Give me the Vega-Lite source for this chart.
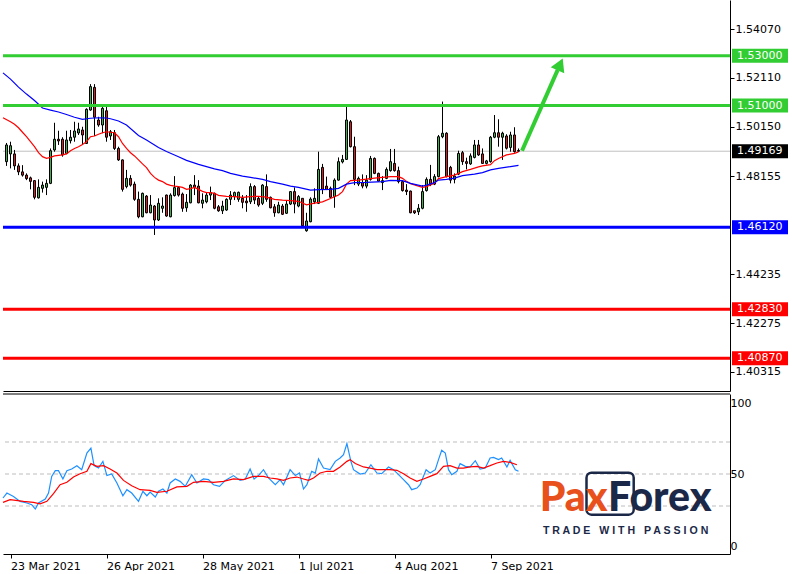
{
  "$schema": "https://vega.github.io/schema/vega-lite/v6.json",
  "padding": 0,
  "background": "white",
  "bounds": "flush",
  "spacing": 3,
  "config": {
    "view": {"stroke": null},
    "font": "DejaVu Sans",
    "scale": {"continuousPadding": 0},
    "axis": {"labelFont": "DejaVu Sans", "labelFontSize": 11, "labelColor": "black", "domainColor": "black", "tickColor": "black", "grid": false}
  },
  "datasets": {
    "candles": [
      {"i":-1,"o":1.4875,"h":1.4950,"l":1.4858,"c":1.4942},
      {"i":0,"o":1.4906,"h":1.4955,"l":1.4848,"c":1.4939},
      {"i":1,"o":1.4906,"h":1.4922,"l":1.4842,"c":1.4858},
      {"i":2,"o":1.4858,"h":1.4868,"l":1.4821,"c":1.4834},
      {"i":3,"o":1.4834,"h":1.4861,"l":1.4815,"c":1.4821},
      {"i":4,"o":1.4821,"h":1.4828,"l":1.4801,"c":1.4807},
      {"i":5,"o":1.4810,"h":1.4815,"l":1.4764,"c":1.4796},
      {"i":6,"o":1.4799,"h":1.4801,"l":1.4724,"c":1.4732},
      {"i":7,"o":1.4730,"h":1.4804,"l":1.4727,"c":1.4772},
      {"i":8,"o":1.4768,"h":1.4795,"l":1.4751,"c":1.4781},
      {"i":9,"o":1.4772,"h":1.4804,"l":1.4741,"c":1.4788},
      {"i":10,"o":1.4788,"h":1.4928,"l":1.4785,"c":1.4919},
      {"i":11,"o":1.4922,"h":1.5031,"l":1.4915,"c":1.4965},
      {"i":12,"o":1.4965,"h":1.4999,"l":1.4942,"c":1.4958},
      {"i":13,"o":1.4965,"h":1.4973,"l":1.4895,"c":1.4902},
      {"i":14,"o":1.4908,"h":1.4999,"l":1.4905,"c":1.4962},
      {"i":15,"o":1.4959,"h":1.5002,"l":1.4948,"c":1.4973},
      {"i":16,"o":1.4973,"h":1.5035,"l":1.4955,"c":1.4998},
      {"i":17,"o":1.4990,"h":1.5031,"l":1.4982,"c":1.5006},
      {"i":18,"o":1.5002,"h":1.5015,"l":1.4942,"c":1.4982},
      {"i":19,"o":1.4948,"h":1.5089,"l":1.4946,"c":1.5085},
      {"i":20,"o":1.5082,"h":1.5186,"l":1.5079,"c":1.5176},
      {"i":21,"o":1.5173,"h":1.5186,"l":1.4978,"c":1.5053},
      {"i":22,"o":1.5042,"h":1.5055,"l":1.5015,"c":1.5022},
      {"i":23,"o":1.5022,"h":1.5096,"l":1.4989,"c":1.5089},
      {"i":24,"o":1.5079,"h":1.5096,"l":1.4955,"c":1.4973},
      {"i":25,"o":1.4978,"h":1.5002,"l":1.4962,"c":1.4995},
      {"i":26,"o":1.4991,"h":1.5002,"l":1.4922,"c":1.4928},
      {"i":27,"o":1.4928,"h":1.4935,"l":1.4878,"c":1.4882},
      {"i":28,"o":1.4882,"h":1.4884,"l":1.4755,"c":1.4764},
      {"i":29,"o":1.4775,"h":1.4842,"l":1.4768,"c":1.4808},
      {"i":30,"o":1.4808,"h":1.4821,"l":1.4775,"c":1.4781},
      {"i":31,"o":1.4785,"h":1.4795,"l":1.4718,"c":1.4724},
      {"i":32,"o":1.4724,"h":1.4755,"l":1.4648,"c":1.4654},
      {"i":33,"o":1.4654,"h":1.4751,"l":1.4652,"c":1.4748},
      {"i":34,"o":1.4737,"h":1.4741,"l":1.4668,"c":1.4670},
      {"i":35,"o":1.4670,"h":1.4741,"l":1.4668,"c":1.4701},
      {"i":36,"o":1.4697,"h":1.4701,"l":1.4581,"c":1.4641},
      {"i":37,"o":1.4641,"h":1.4728,"l":1.4637,"c":1.4708},
      {"i":38,"o":1.4688,"h":1.4732,"l":1.4670,"c":1.4697},
      {"i":39,"o":1.4741,"h":1.4743,"l":1.4654,"c":1.4657},
      {"i":40,"o":1.4654,"h":1.4748,"l":1.4652,"c":1.4741},
      {"i":41,"o":1.4739,"h":1.4817,"l":1.4735,"c":1.4771},
      {"i":42,"o":1.4771,"h":1.4775,"l":1.4735,"c":1.4741},
      {"i":43,"o":1.4745,"h":1.4751,"l":1.4674,"c":1.4688},
      {"i":44,"o":1.4690,"h":1.4745,"l":1.4674,"c":1.4712},
      {"i":45,"o":1.4710,"h":1.4785,"l":1.4708,"c":1.4781},
      {"i":46,"o":1.4781,"h":1.4821,"l":1.4741,"c":1.4772},
      {"i":47,"o":1.4777,"h":1.4801,"l":1.4708,"c":1.4710},
      {"i":48,"o":1.4708,"h":1.4748,"l":1.4688,"c":1.4721},
      {"i":49,"o":1.4714,"h":1.4751,"l":1.4708,"c":1.4741},
      {"i":50,"o":1.4741,"h":1.4775,"l":1.4721,"c":1.4751},
      {"i":51,"o":1.4748,"h":1.4751,"l":1.4684,"c":1.4688},
      {"i":52,"o":1.4694,"h":1.4701,"l":1.4674,"c":1.4678},
      {"i":53,"o":1.4678,"h":1.4718,"l":1.4665,"c":1.4697},
      {"i":54,"o":1.4681,"h":1.4728,"l":1.4678,"c":1.4724},
      {"i":55,"o":1.4724,"h":1.4757,"l":1.4701,"c":1.4741},
      {"i":56,"o":1.4735,"h":1.4755,"l":1.4721,"c":1.4751},
      {"i":57,"o":1.4724,"h":1.4755,"l":1.4714,"c":1.4752},
      {"i":58,"o":1.4728,"h":1.4741,"l":1.4688,"c":1.4712},
      {"i":59,"o":1.4717,"h":1.4741,"l":1.4674,"c":1.4710},
      {"i":60,"o":1.4714,"h":1.4788,"l":1.4705,"c":1.4775},
      {"i":61,"o":1.4775,"h":1.4781,"l":1.4705,"c":1.4721},
      {"i":62,"o":1.4728,"h":1.4735,"l":1.4694,"c":1.4701},
      {"i":63,"o":1.4708,"h":1.4785,"l":1.4701,"c":1.4781},
      {"i":64,"o":1.4775,"h":1.4824,"l":1.4714,"c":1.4724},
      {"i":65,"o":1.4732,"h":1.4735,"l":1.4688,"c":1.4690},
      {"i":66,"o":1.4694,"h":1.4705,"l":1.4654,"c":1.4670},
      {"i":67,"o":1.4670,"h":1.4714,"l":1.4668,"c":1.4701},
      {"i":68,"o":1.4697,"h":1.4705,"l":1.4661,"c":1.4664},
      {"i":69,"o":1.4668,"h":1.4721,"l":1.4665,"c":1.4705},
      {"i":70,"o":1.4705,"h":1.4757,"l":1.4701,"c":1.4755},
      {"i":71,"o":1.4755,"h":1.4772,"l":1.4668,"c":1.4705},
      {"i":72,"o":1.4697,"h":1.4741,"l":1.4692,"c":1.4735},
      {"i":73,"o":1.4728,"h":1.4728,"l":1.4614,"c":1.4618},
      {"i":74,"o":1.4598,"h":1.4670,"l":1.4594,"c":1.4637},
      {"i":75,"o":1.4634,"h":1.4732,"l":1.4632,"c":1.4725},
      {"i":76,"o":1.4714,"h":1.4768,"l":1.4705,"c":1.4728},
      {"i":77,"o":1.4708,"h":1.4915,"l":1.4705,"c":1.4844},
      {"i":78,"o":1.4852,"h":1.4866,"l":1.4745,"c":1.4764},
      {"i":79,"o":1.4777,"h":1.4815,"l":1.4761,"c":1.4764},
      {"i":80,"o":1.4768,"h":1.4775,"l":1.4728,"c":1.4732},
      {"i":81,"o":1.4735,"h":1.4808,"l":1.4690,"c":1.4801},
      {"i":82,"o":1.4801,"h":1.4892,"l":1.4799,"c":1.4875},
      {"i":83,"o":1.4874,"h":1.4902,"l":1.4868,"c":1.4884},
      {"i":84,"o":1.4884,"h":1.5096,"l":1.4882,"c":1.5042},
      {"i":85,"o":1.5035,"h":1.5042,"l":1.4932,"c":1.4935},
      {"i":86,"o":1.4935,"h":1.4975,"l":1.4781,"c":1.4804},
      {"i":87,"o":1.4785,"h":1.4815,"l":1.4777,"c":1.4808},
      {"i":88,"o":1.4791,"h":1.4824,"l":1.4768,"c":1.4777},
      {"i":89,"o":1.4777,"h":1.4821,"l":1.4768,"c":1.4801},
      {"i":90,"o":1.4804,"h":1.4898,"l":1.4799,"c":1.4888},
      {"i":91,"o":1.4888,"h":1.4892,"l":1.4825,"c":1.4828},
      {"i":92,"o":1.4828,"h":1.4831,"l":1.4795,"c":1.4797},
      {"i":93,"o":1.4791,"h":1.4817,"l":1.4761,"c":1.4799},
      {"i":94,"o":1.4808,"h":1.4852,"l":1.4805,"c":1.4844},
      {"i":95,"o":1.4839,"h":1.4926,"l":1.4835,"c":1.4875},
      {"i":96,"o":1.4868,"h":1.4926,"l":1.4835,"c":1.4839},
      {"i":97,"o":1.4839,"h":1.4855,"l":1.4788,"c":1.4795},
      {"i":98,"o":1.4795,"h":1.4799,"l":1.4755,"c":1.4759},
      {"i":99,"o":1.4761,"h":1.4785,"l":1.4741,"c":1.4755},
      {"i":100,"o":1.4757,"h":1.4759,"l":1.4668,"c":1.4670},
      {"i":101,"o":1.4678,"h":1.4678,"l":1.4665,"c":1.4670},
      {"i":102,"o":1.4674,"h":1.4705,"l":1.4661,"c":1.4688},
      {"i":103,"o":1.4688,"h":1.4781,"l":1.4684,"c":1.4755},
      {"i":104,"o":1.4759,"h":1.4812,"l":1.4755,"c":1.4804},
      {"i":105,"o":1.4804,"h":1.4862,"l":1.4777,"c":1.4785},
      {"i":106,"o":1.4785,"h":1.4825,"l":1.4781,"c":1.4815},
      {"i":107,"o":1.4815,"h":1.4982,"l":1.4812,"c":1.4975},
      {"i":108,"o":1.4975,"h":1.5116,"l":1.4969,"c":1.4989},
      {"i":109,"o":1.4989,"h":1.4993,"l":1.4812,"c":1.4815},
      {"i":110,"o":1.4852,"h":1.4858,"l":1.4788,"c":1.4801},
      {"i":111,"o":1.4804,"h":1.4828,"l":1.4788,"c":1.4817},
      {"i":112,"o":1.4825,"h":1.4919,"l":1.4821,"c":1.4908},
      {"i":113,"o":1.4911,"h":1.4918,"l":1.4862,"c":1.4875},
      {"i":114,"o":1.4875,"h":1.4891,"l":1.4844,"c":1.4868},
      {"i":115,"o":1.4866,"h":1.4908,"l":1.4862,"c":1.4898},
      {"i":116,"o":1.4892,"h":1.4962,"l":1.4888,"c":1.4942},
      {"i":117,"o":1.4942,"h":1.4962,"l":1.4898,"c":1.4902},
      {"i":118,"o":1.4906,"h":1.4928,"l":1.4866,"c":1.4868},
      {"i":119,"o":1.4868,"h":1.4882,"l":1.4864,"c":1.4878},
      {"i":120,"o":1.4875,"h":1.4978,"l":1.4871,"c":1.4973},
      {"i":121,"o":1.4973,"h":1.5062,"l":1.4969,"c":1.4991},
      {"i":122,"o":1.4991,"h":1.5045,"l":1.4935,"c":1.4973},
      {"i":123,"o":1.4973,"h":1.4995,"l":1.4882,"c":1.4989},
      {"i":124,"o":1.4978,"h":1.4985,"l":1.4924,"c":1.4929},
      {"i":125,"o":1.4932,"h":1.4995,"l":1.4915,"c":1.4982},
      {"i":126,"o":1.4982,"h":1.5013,"l":1.4911,"c":1.4915},
      {"i":127,"o":1.4920,"h":1.4928,"l":1.4914,"c":1.4917}
    ],
    "ma_fast": [
      {"i":-1.875,"v":1.5051},{"i":0,"v":1.5035},{"i":1,"v":1.5025},{"i":2,"v":1.5011},{"i":3,"v":1.4993},{"i":4,"v":1.4975},{"i":5,"v":1.4955},{"i":6,"v":1.4935},{"i":7,"v":1.4911},{"i":8,"v":1.4895},{"i":9,"v":1.4888},{"i":10,"v":1.4892},{"i":11,"v":1.4898},{"i":12,"v":1.4900},{"i":13,"v":1.4902},{"i":14,"v":1.4906},{"i":15,"v":1.4919},{"i":16,"v":1.4928},{"i":17,"v":1.4935},{"i":18,"v":1.4944},{"i":19,"v":1.4955},{"i":20,"v":1.4975},{"i":21,"v":1.4978},{"i":22,"v":1.4985},{"i":23,"v":1.4991},{"i":24,"v":1.4995},{"i":25,"v":1.4993},{"i":26,"v":1.4991},{"i":27,"v":1.4975},{"i":28,"v":1.4948},{"i":29,"v":1.4928},{"i":30,"v":1.4911},{"i":31,"v":1.4898},{"i":32,"v":1.4882},{"i":33,"v":1.4866},{"i":34,"v":1.4851},{"i":35,"v":1.4828},{"i":36,"v":1.4812},{"i":37,"v":1.4801},{"i":38,"v":1.4795},{"i":39,"v":1.4785},{"i":40,"v":1.4780},{"i":41,"v":1.4777},{"i":42,"v":1.4775},{"i":43,"v":1.4772},{"i":44,"v":1.4764},{"i":45,"v":1.4767},{"i":46,"v":1.4772},{"i":47,"v":1.4764},{"i":48,"v":1.4756},{"i":49,"v":1.4751},{"i":50,"v":1.4751},{"i":51,"v":1.4748},{"i":52,"v":1.4740},{"i":54,"v":1.4736},{"i":56,"v":1.4735},{"i":58,"v":1.4732},{"i":60,"v":1.4735},{"i":62,"v":1.4736},{"i":64,"v":1.4733},{"i":66,"v":1.4724},{"i":68,"v":1.4721},{"i":70,"v":1.4719},{"i":72,"v":1.4716},{"i":74,"v":1.4702},{"i":76,"v":1.4709},{"i":78,"v":1.4714},{"i":80,"v":1.4727},{"i":82,"v":1.4741},{"i":83,"v":1.4755},{"i":84,"v":1.4785},{"i":85,"v":1.4799},{"i":87,"v":1.4801},{"i":89,"v":1.4805},{"i":91,"v":1.4809},{"i":93,"v":1.4812},{"i":95,"v":1.4815},{"i":97,"v":1.4815},{"i":98,"v":1.4808},{"i":99,"v":1.4796},{"i":100,"v":1.4787},{"i":102,"v":1.4777},{"i":103,"v":1.4772},{"i":104,"v":1.4775},{"i":106,"v":1.4788},{"i":107,"v":1.4807},{"i":109,"v":1.4815},{"i":111,"v":1.4821},{"i":113,"v":1.4835},{"i":115,"v":1.4844},{"i":117,"v":1.4854},{"i":118,"v":1.4858},{"i":120,"v":1.4863},{"i":121,"v":1.4879},{"i":122,"v":1.4888},{"i":124,"v":1.4902},{"i":126,"v":1.4908},{"i":127,"v":1.4914}
    ],
    "ma_slow": [
      {"i":-1.875,"v":1.5231},{"i":0,"v":1.5206},{"i":2,"v":1.5174},{"i":4,"v":1.5146},{"i":6,"v":1.5120},{"i":8,"v":1.5090},{"i":10,"v":1.5082},{"i":12,"v":1.5074},{"i":14,"v":1.5064},{"i":16,"v":1.5053},{"i":18,"v":1.5045},{"i":20,"v":1.5049},{"i":22,"v":1.5051},{"i":24,"v":1.5050},{"i":25,"v":1.5047},{"i":27,"v":1.5038},{"i":29,"v":1.5022},{"i":32,"v":1.4980},{"i":34,"v":1.4962},{"i":37,"v":1.4932},{"i":39,"v":1.4916},{"i":42,"v":1.4895},{"i":44,"v":1.4880},{"i":47,"v":1.4864},{"i":49,"v":1.4855},{"i":51,"v":1.4846},{"i":53,"v":1.4839},{"i":55,"v":1.4828},{"i":58,"v":1.4817},{"i":60,"v":1.4812},{"i":63,"v":1.4804},{"i":65,"v":1.4795},{"i":68,"v":1.4785},{"i":70,"v":1.4777},{"i":72,"v":1.4772},{"i":75,"v":1.4761},{"i":77,"v":1.4763},{"i":80,"v":1.4764},{"i":82,"v":1.4768},{"i":84,"v":1.4785},{"i":86,"v":1.4791},{"i":89,"v":1.4792},{"i":93,"v":1.4795},{"i":95,"v":1.4800},{"i":98,"v":1.4799},{"i":100,"v":1.4788},{"i":103,"v":1.4777},{"i":104,"v":1.4781},{"i":106,"v":1.4791},{"i":107,"v":1.4801},{"i":109,"v":1.4804},{"i":111,"v":1.4809},{"i":113,"v":1.4819},{"i":116,"v":1.4825},{"i":118,"v":1.4831},{"i":120,"v":1.4842},{"i":122,"v":1.4848},{"i":125,"v":1.4855},{"i":127,"v":1.4860}
    ],
    "levels": [
      {"p":1.53,"t":"1.53000","kind":"resistance"},
      {"p":1.51,"t":"1.51000","kind":"resistance"},
      {"p":1.4612,"t":"1.46120","kind":"pivot"},
      {"p":1.4283,"t":"1.42830","kind":"support"},
      {"p":1.4087,"t":"1.40870","kind":"support"},
      {"p":1.49169,"t":"1.49169","kind":"price"}
    ],
    "rsi": [
      {"i":-1.875,"v":35.0},{"i":-0.9,"v":38.1},{"i":0.75,"v":36.0},{"i":2.4,"v":32.9},{"i":4.1,"v":31.9},{"i":5.3,"v":30.8},{"i":6.2,"v":28.1},{"i":7,"v":31.9},{"i":8.7,"v":34.4},{"i":9.5,"v":38.1},{"i":10.3,"v":48.5},{"i":11.2,"v":52.1},{"i":12,"v":52.1},{"i":13.1,"v":46.9},{"i":14.1,"v":52.1},{"i":15.3,"v":53.1},{"i":16.6,"v":55.2},{"i":17.8,"v":52.7},{"i":19.1,"v":63.1},{"i":20.1,"v":66.2},{"i":20.9,"v":55.2},{"i":22,"v":53.7},{"i":23.1,"v":57.9},{"i":24.1,"v":49.0},{"i":25.3,"v":50.0},{"i":26.6,"v":44.4},{"i":28.1,"v":36.4},{"i":29.1,"v":40.2},{"i":30.3,"v":38.1},{"i":32,"v":32.9},{"i":33.1,"v":39.2},{"i":34.1,"v":36.4},{"i":34.9,"v":38.7},{"i":36.2,"v":35.6},{"i":37,"v":39.2},{"i":38.1,"v":40.6},{"i":39.1,"v":38.1},{"i":39.9,"v":44.4},{"i":41.2,"v":46.9},{"i":42.4,"v":45.4},{"i":43.7,"v":42.3},{"i":45.3,"v":49.6},{"i":46.6,"v":44.4},{"i":48.25,"v":46.9},{"i":49.5,"v":46.5},{"i":50.75,"v":43.3},{"i":52.25,"v":42.3},{"i":53.7,"v":46.0},{"i":55.75,"v":49.0},{"i":57.4,"v":46.0},{"i":58.7,"v":46.9},{"i":59.9,"v":53.1},{"i":60.9,"v":46.9},{"i":62,"v":49.0},{"i":63.25,"v":52.7},{"i":64.5,"v":47.5},{"i":66.2,"v":43.3},{"i":67.4,"v":46.5},{"i":68.25,"v":43.3},{"i":69.9,"v":52.7},{"i":71.2,"v":49.0},{"i":72.25,"v":50.6},{"i":73.25,"v":40.6},{"i":74.1,"v":43.3},{"i":75.3,"v":51.7},{"i":76.2,"v":50.6},{"i":77,"v":59.4},{"i":78.25,"v":53.7},{"i":79.9,"v":52.7},{"i":81.2,"v":57.9},{"i":82.4,"v":60.0},{"i":83.25,"v":62.1},{"i":84.1,"v":69.0},{"i":85.1,"v":57.9},{"i":85.75,"v":52.7},{"i":87.4,"v":50.0},{"i":88.7,"v":50.6},{"i":90.1,"v":55.8},{"i":91.6,"v":50.6},{"i":92.8,"v":50.2},{"i":94.5,"v":54.4},{"i":95.75,"v":52.7},{"i":97,"v":49.6},{"i":98.25,"v":46.5},{"i":99.5,"v":43.3},{"i":100.3,"v":40.2},{"i":101.6,"v":41.2},{"i":102.4,"v":43.3},{"i":103.9,"v":52.7},{"i":104.9,"v":50.6},{"i":106.2,"v":52.7},{"i":107,"v":59.0},{"i":107.8,"v":64.8},{"i":108.7,"v":63.1},{"i":109.5,"v":52.7},{"i":110.3,"v":49.6},{"i":111.6,"v":51.7},{"i":112.4,"v":56.5},{"i":113.7,"v":54.8},{"i":114.9,"v":54.4},{"i":116.2,"v":58.3},{"i":117.4,"v":53.1},{"i":118.7,"v":53.7},{"i":119.9,"v":60.0},{"i":120.75,"v":60.4},{"i":122,"v":59.0},{"i":122.8,"v":60.0},{"i":124.1,"v":54.4},{"i":124.9,"v":58.5},{"i":126.2,"v":52.7},{"i":127,"v":51.7}
    ],
    "rsi_signal": [
      {"i":-1.875,"v":32.3},{"i":-0.1,"v":34.0},{"i":3.25,"v":32.9},{"i":5.75,"v":32.3},{"i":7.4,"v":31.4},{"i":9.1,"v":32.9},{"i":10.75,"v":37.7},{"i":12.4,"v":43.3},{"i":14.1,"v":44.8},{"i":15.75,"v":48.1},{"i":17.4,"v":50.2},{"i":19.1,"v":51.7},{"i":20.1,"v":56.5},{"i":21.6,"v":54.8},{"i":23.25,"v":55.2},{"i":24.9,"v":53.1},{"i":26.6,"v":50.6},{"i":28.25,"v":46.0},{"i":30.3,"v":42.7},{"i":32.4,"v":40.2},{"i":34.9,"v":39.8},{"i":36.6,"v":38.5},{"i":39.1,"v":39.2},{"i":41.6,"v":41.9},{"i":44.1,"v":42.3},{"i":45.75,"v":44.8},{"i":48.25,"v":45.4},{"i":50.75,"v":44.8},{"i":53.25,"v":45.4},{"i":55.75,"v":46.9},{"i":58.25,"v":46.5},{"i":60.75,"v":48.5},{"i":63.25,"v":48.5},{"i":64.9,"v":47.5},{"i":66.6,"v":46.9},{"i":68.25,"v":46.0},{"i":69.9,"v":47.5},{"i":71.6,"v":48.1},{"i":73.25,"v":46.9},{"i":74.5,"v":46.0},{"i":75.75,"v":47.5},{"i":77.4,"v":50.6},{"i":79.1,"v":51.7},{"i":80.75,"v":51.7},{"i":82.4,"v":54.4},{"i":84.1,"v":57.9},{"i":84.9,"v":59.0},{"i":86.2,"v":56.5},{"i":88.25,"v":54.4},{"i":89.9,"v":53.7},{"i":91.6,"v":52.7},{"i":93.25,"v":52.7},{"i":94.9,"v":52.7},{"i":96.6,"v":52.3},{"i":98.25,"v":50.2},{"i":99.9,"v":47.5},{"i":101.6,"v":45.4},{"i":103.25,"v":46.9},{"i":104.9,"v":48.5},{"i":106.6,"v":50.2},{"i":108.25,"v":54.8},{"i":109.9,"v":55.2},{"i":111.6,"v":53.7},{"i":113.25,"v":53.7},{"i":114.9,"v":54.4},{"i":116.6,"v":54.8},{"i":118.25,"v":53.7},{"i":119.9,"v":55.2},{"i":121.6,"v":56.9},{"i":123.25,"v":57.9},{"i":124.9,"v":57.3},{"i":126.6,"v":55.8}
    ],
    "rsi_levels": [{"v":30},{"v":50},{"v":70}],
    "one": [{}]
  },
  "vconcat": [
    {
      "width": 727,
      "height": 391,
      "layer": [
        {
          "data": {"name": "levels"},
          "transform": [{"filter": "datum.kind == 'price'"}],
          "mark": {"type": "rule", "color": "#c0c0c0", "strokeWidth": 1},
          "encoding": {
            "y": {"field": "p", "type": "quantitative", "scale": {"domain": [1.39553, 1.55233], "zero": false, "nice": false, "padding": 0}}
          }
        },
        {
          "data": {"name": "candles"},
          "mark": {"type": "rule", "color": "black", "strokeWidth": 1},
          "encoding": {
            "x": {"field": "i", "type": "quantitative", "scale": {"domain": [-1.875, 179.875], "zero": false, "nice": false, "padding": 0},
                  "axis": {"orient": "bottom", "labels": false, "ticks": false, "title": null, "grid": false, "domainColor": "black"}},
            "y": {"field": "l", "type": "quantitative", "scale": {"domain": [1.39553, 1.55233], "zero": false, "nice": false, "padding": 0},
                  "axis": {"orient": "right", "title": null, "values": [1.5407, 1.5211, 1.5015, 1.48155, 1.44235, 1.42275, 1.40315], "format": ".5f", "tickSize": 4, "labelPadding": 1, "labelOverlap": false, "labelFlush": false, "grid": false}},
            "y2": {"field": "h"}
          }
        },
        {
          "data": {"name": "candles"},
          "mark": {"type": "bar", "size": 2, "stroke": "black", "strokeWidth": 1},
          "encoding": {
            "x": {"field": "i", "type": "quantitative"},
            "y": {"field": "o", "type": "quantitative"},
            "y2": {"field": "c"},
            "fill": {"condition": {"test": "datum.c >= datum.o", "value": "#3db346"}, "value": "#dd1c1c"}
          }
        },
        {
          "data": {"name": "ma_fast"},
          "mark": {"type": "line", "color": "#ff0000", "strokeWidth": 1.2},
          "encoding": {
            "x": {"field": "i", "type": "quantitative"},
            "y": {"field": "v", "type": "quantitative"}
          }
        },
        {
          "data": {"name": "ma_slow"},
          "mark": {"type": "line", "color": "#0000ff", "strokeWidth": 1.2},
          "encoding": {
            "x": {"field": "i", "type": "quantitative"},
            "y": {"field": "v", "type": "quantitative"}
          }
        },
        {
          "data": {"name": "levels"},
          "transform": [{"filter": "datum.kind != 'price'"}],
          "mark": {"type": "rule", "strokeWidth": 3},
          "encoding": {
            "y": {"field": "p", "type": "quantitative"},
            "color": {"field": "kind", "type": "nominal", "legend": null,
                      "scale": {"domain": ["resistance", "pivot", "support", "price"], "range": ["#32cd32", "#0000ff", "#ff0000", "#000000"]}}
          }
        },
        {
          "data": {"name": "levels"},
          "mark": {"type": "tick", "orient": "horizontal", "thickness": 14, "size": 56, "opacity": 1},
          "encoding": {
            "x": {"datum": 187.375, "type": "quantitative"},
            "y": {"field": "p", "type": "quantitative"},
            "color": {"field": "kind", "type": "nominal", "legend": null}
          }
        },
        {
          "data": {"name": "levels"},
          "mark": {"type": "text", "align": "left", "baseline": "middle", "color": "white", "font": "DejaVu Sans", "fontSize": 11},
          "encoding": {
            "x": {"datum": 181.625, "type": "quantitative"},
            "y": {"field": "p", "type": "quantitative"},
            "text": {"field": "t"}
          }
        },
        {
          "data": {"name": "one"},
          "mark": {"type": "rule", "color": "#32cd32", "strokeWidth": 4},
          "encoding": {
            "x": {"datum": 127.875, "type": "quantitative"},
            "y": {"datum": 1.4919, "type": "quantitative"},
            "x2": {"datum": 136.8},
            "y2": {"datum": 1.5243}
          }
        },
        {
          "data": {"name": "one"},
          "mark": {"type": "point", "shape": "triangle-up", "filled": true, "color": "#32cd32", "size": 220, "angle": 24, "opacity": 1},
          "encoding": {
            "x": {"datum": 137.4, "type": "quantitative"},
            "y": {"datum": 1.5265, "type": "quantitative"}
          }
        }
      ]
    },
    {
      "width": 727,
      "height": 160,
      "layer": [
        {
          "data": {"name": "rsi_levels"},
          "mark": {"type": "rule", "color": "#bdbdbd", "strokeWidth": 1, "strokeDash": [4, 3]},
          "encoding": {
            "y": {"field": "v", "type": "quantitative", "scale": {"domain": [0, 100], "nice": false, "padding": 0},
                  "axis": {"orient": "right", "title": null, "values": [0, 30, 50, 70, 100], "ticks": false, "tickSize": 0, "labelPadding": 0, "labelFlush": true, "labelFlushOffset": -3, "labelOverlap": false, "grid": false}}
          }
        },
        {
          "data": {"name": "one"},
          "mark": {"type": "rule", "color": "black", "strokeWidth": 1},
          "encoding": {"y": {"datum": 100, "type": "quantitative"}}
        },
        {
          "data": {"name": "rsi"},
          "mark": {"type": "line", "color": "#1e90ff", "strokeWidth": 1.2},
          "encoding": {
            "x": {"field": "i", "type": "quantitative", "scale": {"domain": [-1.875, 179.875], "zero": false, "nice": false, "padding": 0},
                  "axis": {"orient": "bottom", "title": null, "values": [0, 24, 48, 72, 96, 120],
                           "labelExpr": "datum.value == 0 ? '23 Mar 2021' : datum.value == 24 ? '26 Apr 2021' : datum.value == 48 ? '28 May 2021' : datum.value == 72 ? '1 Jul 2021' : datum.value == 96 ? '4 Aug 2021' : '7 Sep 2021'",
                           "labelAlign": "left", "labelBaseline": "top", "tickSize": 4, "labelPadding": 2, "labelOverlap": false, "labelFlush": false, "grid": false}},
            "y": {"field": "v", "type": "quantitative"}
          }
        },
        {
          "data": {"name": "rsi_signal"},
          "mark": {"type": "line", "color": "#ff0000", "strokeWidth": 1.2},
          "encoding": {
            "x": {"field": "i", "type": "quantitative"},
            "y": {"field": "v", "type": "quantitative"}
          }
        },
        {
          "data": {"name": "one"},
          "mark": {"type": "rect", "fill": null, "fillOpacity": 0, "stroke": "#1b2847", "strokeWidth": 2.5, "cornerRadius": 5},
          "encoding": {
            "x": {"datum": 144.0, "type": "quantitative"},
            "x2": {"datum": 155.8},
            "y": {"datum": 50.8, "type": "quantitative"},
            "y2": {"datum": 24.6}
          }
        },
        {
          "data": {"name": "one"},
          "mark": {"type": "text", "align": "left", "baseline": "alphabetic", "font": "Lato", "fontWeight": 900, "fontSize": 41, "color": "#e8511c"},
          "encoding": {
            "x": {"datum": 132.3, "type": "quantitative"},
            "y": {"datum": 27.1, "type": "quantitative"},
            "text": {"value": "Pax"}
          }
        },
        {
          "data": {"name": "one"},
          "mark": {"type": "text", "align": "left", "baseline": "alphabetic", "font": "Lato", "fontWeight": 900, "fontSize": 41, "color": "#1b2847"},
          "encoding": {
            "x": {"datum": 149.4, "type": "quantitative"},
            "y": {"datum": 27.1, "type": "quantitative"},
            "text": {"value": "Forex"}
          }
        },
        {
          "data": {"name": "one"},
          "mark": {"type": "text", "align": "left", "baseline": "alphabetic", "font": "Liberation Sans", "fontWeight": "bold", "fontSize": 10.6, "color": "#1b2847"},
          "encoding": {
            "x": {"datum": 133.1, "type": "quantitative"},
            "y": {"datum": 12.7, "type": "quantitative"},
            "text": {"value": "T R A D E \u00a0 W I T H \u00a0 P A S S I O N"}
          }
        }
      ]
    }
  ]
}
